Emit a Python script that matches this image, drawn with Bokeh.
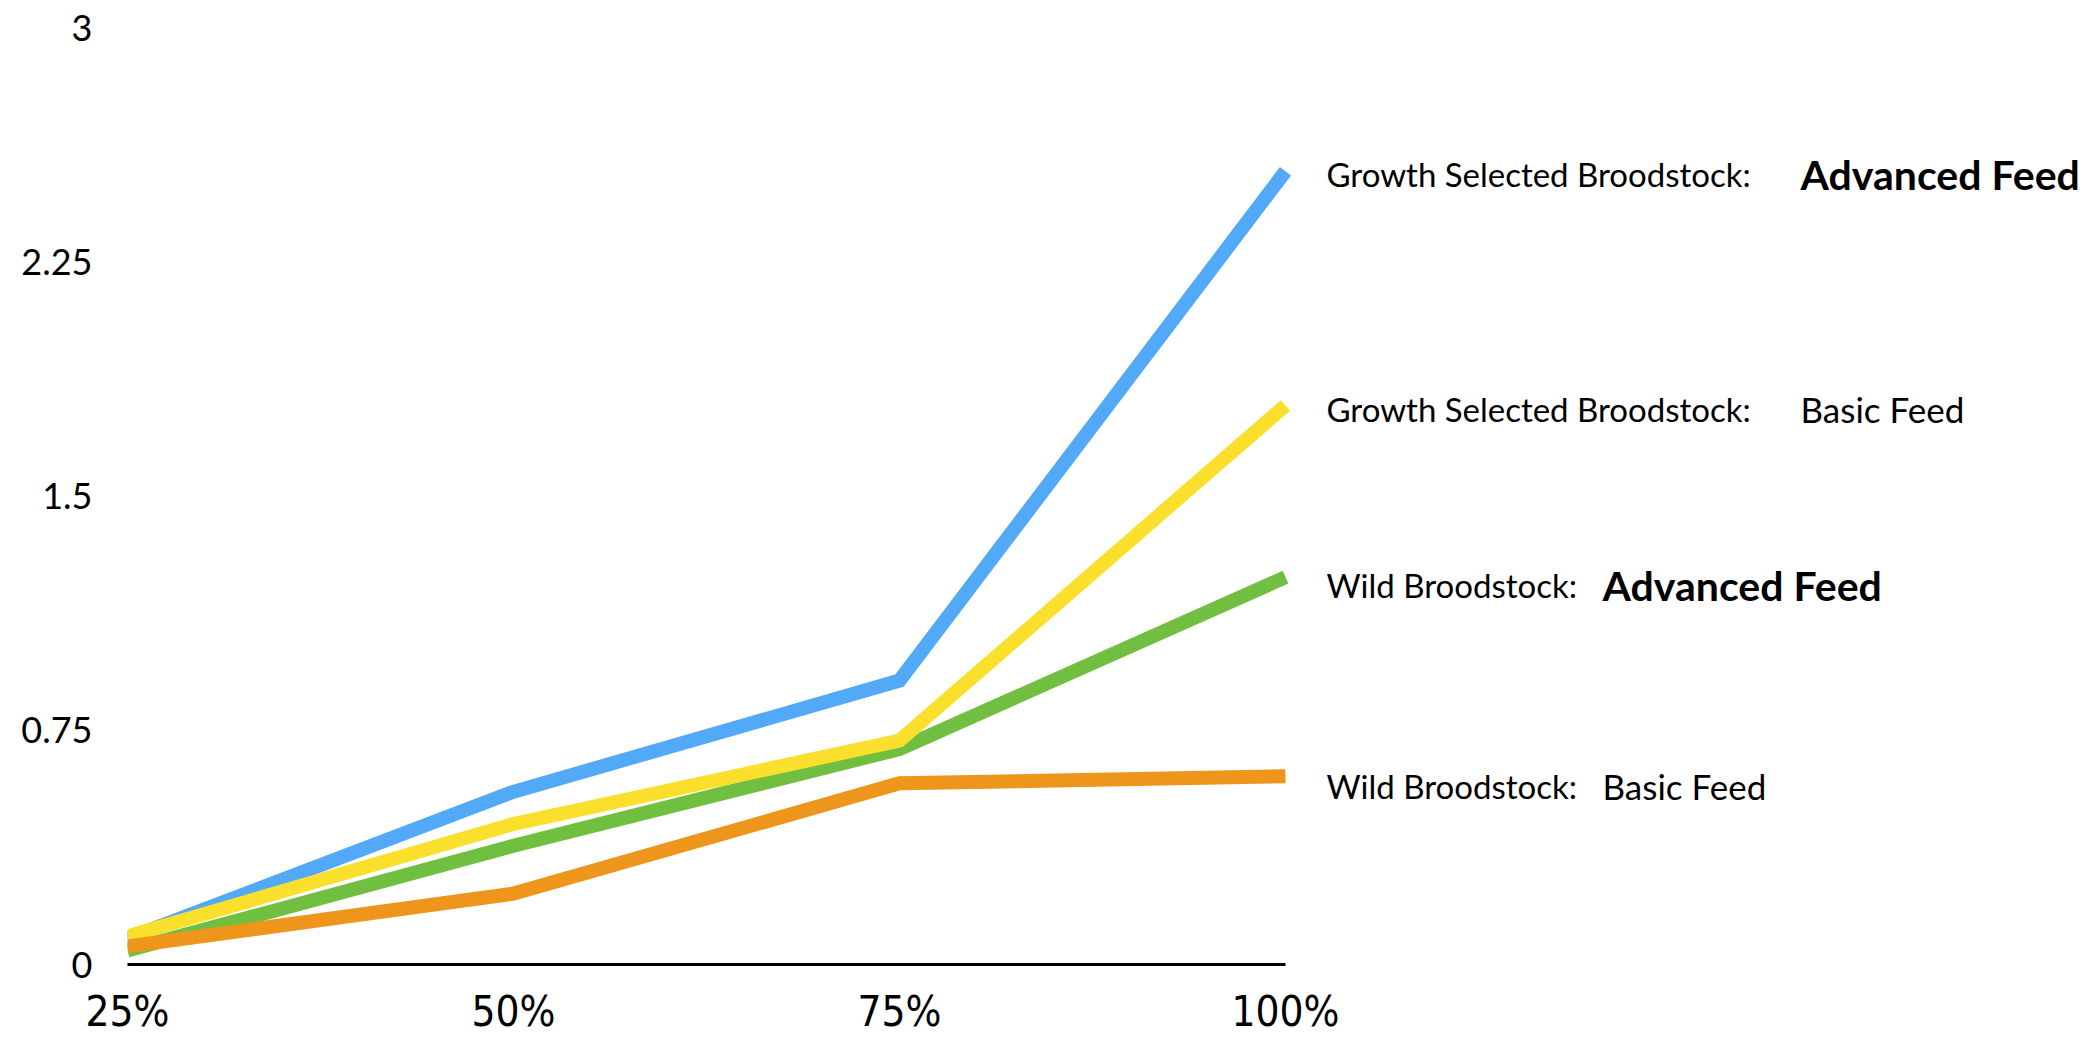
from bokeh.plotting import figure
from bokeh.models import Range1d, FixedTicker, ColumnDataSource
from bokeh.core.properties import value
from bokeh.embed import file_html
from bokeh.resources import INLINE

# ---- data ----
x_labels = ["25%", "50%", "75%", "100%"]
y_ticks = [0, 0.75, 1.5, 2.25, 3]
y_tick_labels = ["0", "0.75", "1.5", "2.25", "3"]

gs_advanced = [0.083, 0.553, 0.909, 2.54]    # Growth Selected Broodstock: Advanced Feed
gs_basic = [0.09, 0.45, 0.717, 1.79]         # Growth Selected Broodstock: Basic Feed
wild_advanced = [0.045, 0.38, 0.69, 1.24]    # Wild Broodstock: Advanced Feed
wild_basic = [0.058, 0.227, 0.58, 0.603]     # Wild Broodstock: Basic Feed

label_prefix = ["Growth Selected Broodstock:", "Growth Selected Broodstock:",
                "Wild Broodstock:", "Wild Broodstock:"]
label_feed = ["Advanced Feed", "Basic Feed", "Advanced Feed", "Basic Feed"]
label_bold = [True, False, True, False]
label_y = [2.53, 1.78, 1.215, 0.57]

colors = ["#52A9F7", "#FAE02C", "#70BF40", "#EE951C"]
series = [gs_advanced, gs_basic, wild_advanced, wild_basic]

W, H = 2099, 1045
left, bottom = 127, 81
frame_w = W - left
frame_h = H - bottom
unit_px = 1158 / 3.0
xs = list(range(len(x_labels)))

p = figure(width=W, height=H, output_backend="svg", toolbar_location=None,
           x_range=Range1d(0, frame_w / unit_px),
           y_range=Range1d(0, 3 * frame_h / (964 - 27)),
           min_border_left=left, min_border_right=0, min_border_top=0,
           min_border_bottom=bottom)
p.outline_line_color = None
p.grid.visible = False
p.background_fill_color = "white"
p.border_fill_color = "white"

# x axis
xa = p.xaxis[0]
xa.ticker = FixedTicker(ticks=xs)
xa.major_label_overrides = {i: s for i, s in zip(xs, x_labels)}
xa.bounds = (0, 3)
xa.axis_line_color = "black"
xa.axis_line_width = 3
xa.major_tick_line_color = None
xa.major_tick_in = 0
xa.major_tick_out = 0
xa.minor_tick_line_color = None
xa.major_label_standoff = 22
xa.major_label_text_font = "Liberation Sans Narrow, DejaVu Sans Condensed, sans-serif"
xa.major_label_text_font_size = "42px"
xa.major_label_text_color = "black"

# y axis
ya = p.yaxis[0]
ya.ticker = FixedTicker(ticks=y_ticks)
ya.major_label_overrides = {t: s for t, s in zip(y_ticks, y_tick_labels)}
ya.axis_line_color = None
ya.major_tick_line_color = None
ya.major_tick_in = 0
ya.major_tick_out = 0
ya.minor_tick_line_color = None
ya.major_label_standoff = 35
ya.major_label_text_font = "Lato"
ya.major_label_text_font_size = "36px"
ya.major_label_text_color = "black"

# lines: bottom to top order blue, green, yellow, orange
for idx in [0, 2, 1, 3]:
    p.line(xs, series[idx], line_color=colors[idx], line_width=14,
           line_join="miter", line_cap="butt")

# labels
lx = [3 + (1326 - 1285) / unit_px] * 4
src = ColumnDataSource(dict(x=lx, y=label_y, t=label_prefix))
p.text(x="x", y="y", text="t", source=src, text_font=value("Lato"),
       text_font_size="33px", text_baseline="middle", text_align="left",
       text_color="black")

bold_off = [474, 474, 276, 276]
reg = [i for i in range(4) if not label_bold[i]]
bld = [i for i in range(4) if label_bold[i]]
src_r = ColumnDataSource(dict(x=[lx[i] for i in reg], y=[label_y[i] for i in reg],
                              t=[label_feed[i] for i in reg], o=[bold_off[i] for i in reg]))
p.text(x="x", y="y", text="t", x_offset="o", source=src_r, text_font=value("Lato"),
       text_font_size="35px", text_baseline="middle", text_align="left",
       text_color="black")
src_b = ColumnDataSource(dict(x=[lx[i] for i in bld], y=[label_y[i] for i in bld],
                              t=[label_feed[i] for i in bld], o=[bold_off[i] for i in bld]))
p.text(x="x", y="y", text="t", x_offset="o", source=src_b, text_font=value("Lato"),
       text_font_size="41px", text_font_style="bold", text_baseline="middle",
       text_align="left", text_color="black")

open("out.html", "w").write(file_html(p, INLINE))
